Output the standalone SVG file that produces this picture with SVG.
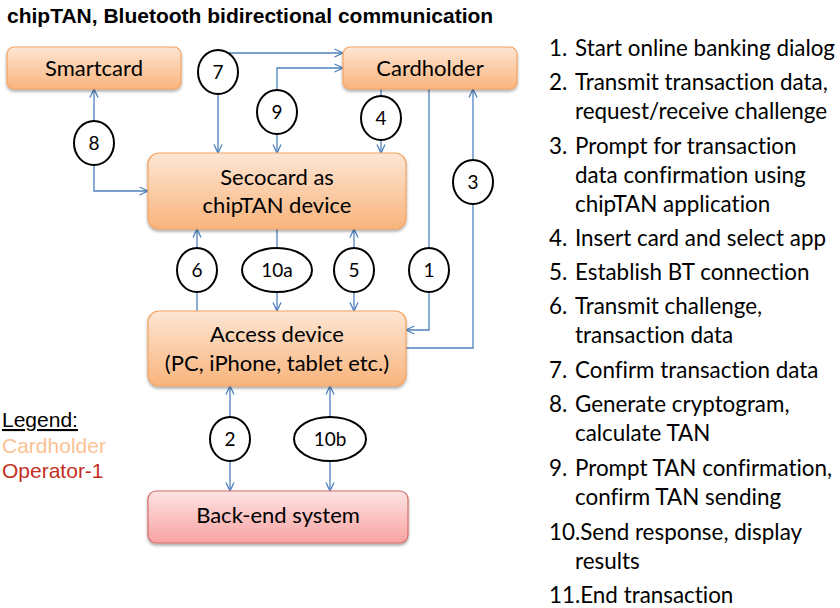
<svg xmlns="http://www.w3.org/2000/svg" width="840" height="608" viewBox="0 0 840 608">
<defs>
<linearGradient id="gOr" x1="0" y1="0" x2="0" y2="1">
<stop offset="0" stop-color="#fde6d4"/>
<stop offset="1" stop-color="#f9b47c"/>
</linearGradient>
<linearGradient id="gPk" x1="0" y1="0" x2="0" y2="1">
<stop offset="0" stop-color="#fde3e3"/>
<stop offset="1" stop-color="#f8a3a2"/>
</linearGradient>
<filter id="sh" x="-10%" y="-10%" width="120%" height="140%">
<feDropShadow dx="0" dy="2" stdDeviation="1.5" flood-color="#000" flood-opacity="0.35"/>
</filter>
<marker id="ar" viewBox="0 0 10 10" refX="9.5" refY="5" markerWidth="10" markerHeight="10" markerUnits="userSpaceOnUse" orient="auto-start-reverse">
<path d="M1,1 L9.5,5 L1,9" fill="none" stroke="#4f81bd" stroke-width="1.3"/>
</marker>
<style>
.t{font-family:Lato,"Liberation Sans",sans-serif;fill:#000;font-variant-ligatures:none}
.box{fill:url(#gOr);stroke:#f4a462;stroke-width:1.2;filter:url(#sh)}
.pk{fill:url(#gPk);stroke:#d46e6c;stroke-width:1.2;filter:url(#sh)}
.nt{font-size:22px;text-anchor:middle}
.c{fill:#fff;stroke:#000;stroke-width:2}
.cn{font-size:19px;text-anchor:middle}
.ln{fill:none;stroke:#4f81bd;stroke-width:1.3}
.li{font-size:22.4px}
</style>
</defs>
<rect width="840" height="608" fill="#fff"/>
<text x="7" y="23" style="font-family:'Liberation Sans',Arial,sans-serif;font-weight:bold;font-size:21px">chipTAN, Bluetooth bidirectional communication</text>

<g id="connectors">
<path class="ln" d="M218,153 V53 H343" marker-start="url(#ar)" marker-end="url(#ar)"/>
<path class="ln" d="M277,153 V68 H343" marker-start="url(#ar)" marker-end="url(#ar)"/>
<path class="ln" d="M381,89 V153" marker-end="url(#ar)"/>
<path class="ln" d="M429,89 V330 H406" marker-end="url(#ar)"/>
<path class="ln" d="M406,348 H473 V89" marker-end="url(#ar)"/>
<path class="ln" d="M148,191 H94 V89" marker-start="url(#ar)" marker-end="url(#ar)"/>
<path class="ln" d="M197,311 V229" marker-end="url(#ar)"/>
<path class="ln" d="M277,229 V311" marker-end="url(#ar)"/>
<path class="ln" d="M354,311 V229" marker-start="url(#ar)" marker-end="url(#ar)"/>
<path class="ln" d="M230,386 V491" marker-start="url(#ar)" marker-end="url(#ar)"/>
<path class="ln" d="M330,386 V491" marker-start="url(#ar)" marker-end="url(#ar)"/>
</g>

<g id="smartcard"><rect class="box" x="7" y="47" width="174" height="42" rx="7"/><text class="t nt" x="94" y="76">Smartcard</text></g>
<g id="cardholder"><rect class="box" x="343" y="47" width="174" height="42" rx="7"/><text class="t nt" x="430" y="76">Cardholder</text></g>
<g id="secocard"><rect class="box" x="148" y="153" width="258" height="76" rx="11"/><text class="t nt" x="277" y="185">Secocard as</text><text class="t nt" x="277" y="213">chipTAN device</text></g>
<g id="access"><rect class="box" x="148" y="311" width="258" height="75" rx="11"/><text class="t nt" x="277" y="342">Access device</text><text class="t nt" x="277" y="371">(PC, iPhone, tablet etc.)</text></g>
<g id="backend"><rect class="pk" x="148" y="491" width="260" height="52" rx="8"/><text class="t nt" x="278" y="523">Back-end system</text></g>

<g id="s7"><ellipse class="c" cx="218" cy="72" rx="20" ry="22"/><text class="t cn" x="218" y="79">7</text></g>
<g id="s9"><ellipse class="c" cx="277" cy="112" rx="20" ry="22"/><text class="t cn" x="277" y="119">9</text></g>
<g id="s4"><ellipse class="c" cx="381" cy="118" rx="20" ry="22"/><text class="t cn" x="381" y="125">4</text></g>
<g id="s8"><ellipse class="c" cx="94" cy="143" rx="20" ry="22"/><text class="t cn" x="94" y="150">8</text></g>
<g id="s3"><ellipse class="c" cx="473" cy="182" rx="20" ry="22"/><text class="t cn" x="473" y="189">3</text></g>
<g id="s6"><ellipse class="c" cx="197" cy="270" rx="20" ry="22"/><text class="t cn" x="197" y="277">6</text></g>
<g id="s10a"><ellipse class="c" cx="277" cy="270" rx="35" ry="22"/><text class="t cn" x="277" y="277">10a</text></g>
<g id="s5"><ellipse class="c" cx="354" cy="270" rx="20" ry="22"/><text class="t cn" x="354" y="277">5</text></g>
<g id="s1"><ellipse class="c" cx="429" cy="270" rx="20" ry="22"/><text class="t cn" x="429" y="277">1</text></g>
<g id="s2"><ellipse class="c" cx="230" cy="439" rx="20" ry="22"/><text class="t cn" x="230" y="446">2</text></g>
<g id="s10b"><ellipse class="c" cx="330" cy="439" rx="36" ry="22"/><text class="t cn" x="330" y="446">10b</text></g>

<g id="legend" style="font-family:'Liberation Sans',Arial,sans-serif;font-size:21px">
<text x="2" y="427" fill="#000" text-decoration="underline">Legend:</text>
<text x="2" y="453" fill="#fac293">Cardholder</text>
<text x="2" y="478" fill="#c3301f">Operator-1</text>
</g>

<g id="steps" class="t li">
<text x="549" y="56">1.</text><text x="575" y="56">Start online banking dialog</text>
<text x="549" y="90">2.</text><text x="575" y="90">Transmit transaction data,</text>
<text x="575" y="119">request/receive challenge</text>
<text x="549" y="154">3.</text><text x="575" y="154">Prompt for transaction</text>
<text x="575" y="183">data confirmation using</text>
<text x="575" y="212">chipTAN application</text>
<text x="549" y="246">4.</text><text x="575" y="246">Insert card and select app</text>
<text x="549" y="280">5.</text><text x="575" y="280">Establish BT connection</text>
<text x="549" y="314">6.</text><text x="575" y="314">Transmit challenge,</text>
<text x="575" y="343">transaction data</text>
<text x="549" y="378">7.</text><text x="575" y="378">Confirm transaction data</text>
<text x="549" y="412">8.</text><text x="575" y="412">Generate cryptogram,</text>
<text x="575" y="441">calculate TAN</text>
<text x="549" y="476">9.</text><text x="575" y="476">Prompt TAN confirmation,</text>
<text x="575" y="505">confirm TAN sending</text>
<text x="549" y="540">10.Send response, display</text>
<text x="575" y="569">results</text>
<text x="549" y="603">11.End transaction</text>
</g>
</svg>
